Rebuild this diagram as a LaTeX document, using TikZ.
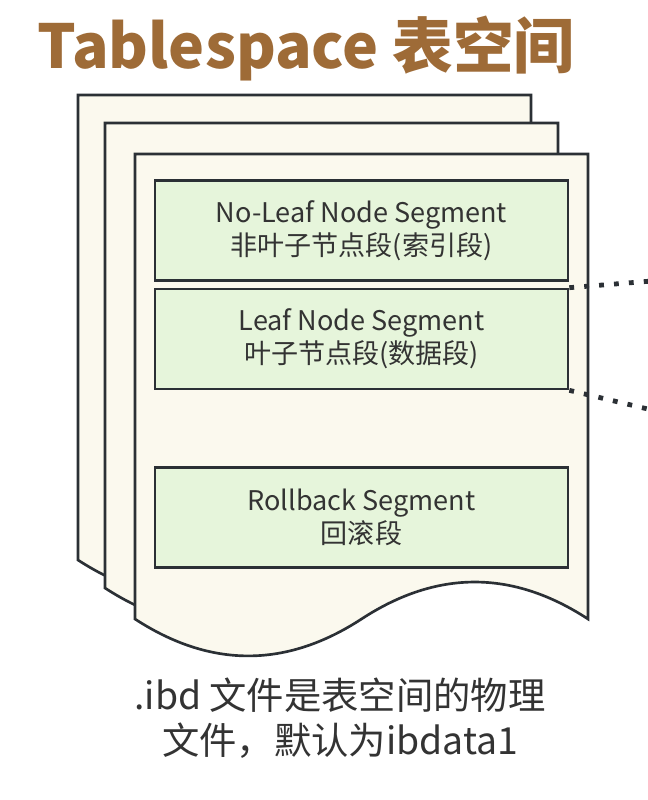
\documentclass[tikz,border=0pt]{standalone}
\usepackage{fontspec}
\setmainfont{Noto Sans CJK SC}
\definecolor{titlebrown}{HTML}{9E6B37}
\definecolor{txtgray}{HTML}{333333}
\definecolor{strokegray}{HTML}{2B3035}
\definecolor{cream}{HTML}{FBF9EE}
\definecolor{segfill}{HTML}{E6F5DB}
\tikzset{
  pagesheet/.style={draw=strokegray, fill=cream, line width=2pt, line join=miter},
  segbox/.style={draw=strokegray, fill=segfill, line width=2pt, minimum width=309.75pt, minimum height=75pt, inner sep=0pt, align=center, text=txtgray, font=\fontsize{20.3}{24.5}\selectfont},
  dotline/.style={draw=strokegray, line width=3.6pt, dash pattern=on 3.6pt off 7.6pt},
}
\begin{document}
\begin{tikzpicture}[x=0.75pt,y=-0.75pt]
\useasboundingbox (0,0) rectangle (648,800);
\node[text=titlebrown, font=\fontsize{45.5}{56}\bfseries\selectfont, anchor=base] (title) at (306,68) {Tablespace 表空间};
\foreach \ox/\oy in {78/95,105/123,135/154}{
  \begin{scope}[shift={(\ox,\oy)}]
  \path[pagesheet] (0,0) -- (453,0) -- (453,465)
     .. controls (377.5,415.7) and (302,415.7) .. (226.5,465)
     .. controls (151,514.2) and (75.5,514.2) .. (0,465) -- cycle;
  \end{scope}
}
\node[segbox] (noleaf) at (361.5,230.5) {No-Leaf Node Segment\\非叶子节点段(索引段)};
\node[segbox] (leaf) at (361.5,339) {Leaf Node Segment\\叶子节点段(数据段)};
\node[segbox] (rollback) at (361.5,517.5) {Rollback Segment\\回滚段};
\coordinate (far1) at (652,281);
\coordinate (far2) at (652,410);
\draw[dotline] (leaf.north east) -- (far1);
\draw[dotline] (leaf.south east) -- (far2);
\node[align=center, text=txtgray, font=\fontsize{28}{33.5}\selectfont] (note) at (340,718) {.ibd 文件是表空间的物理\\文件，默认为ibdata1};
\end{tikzpicture}
\end{document}
